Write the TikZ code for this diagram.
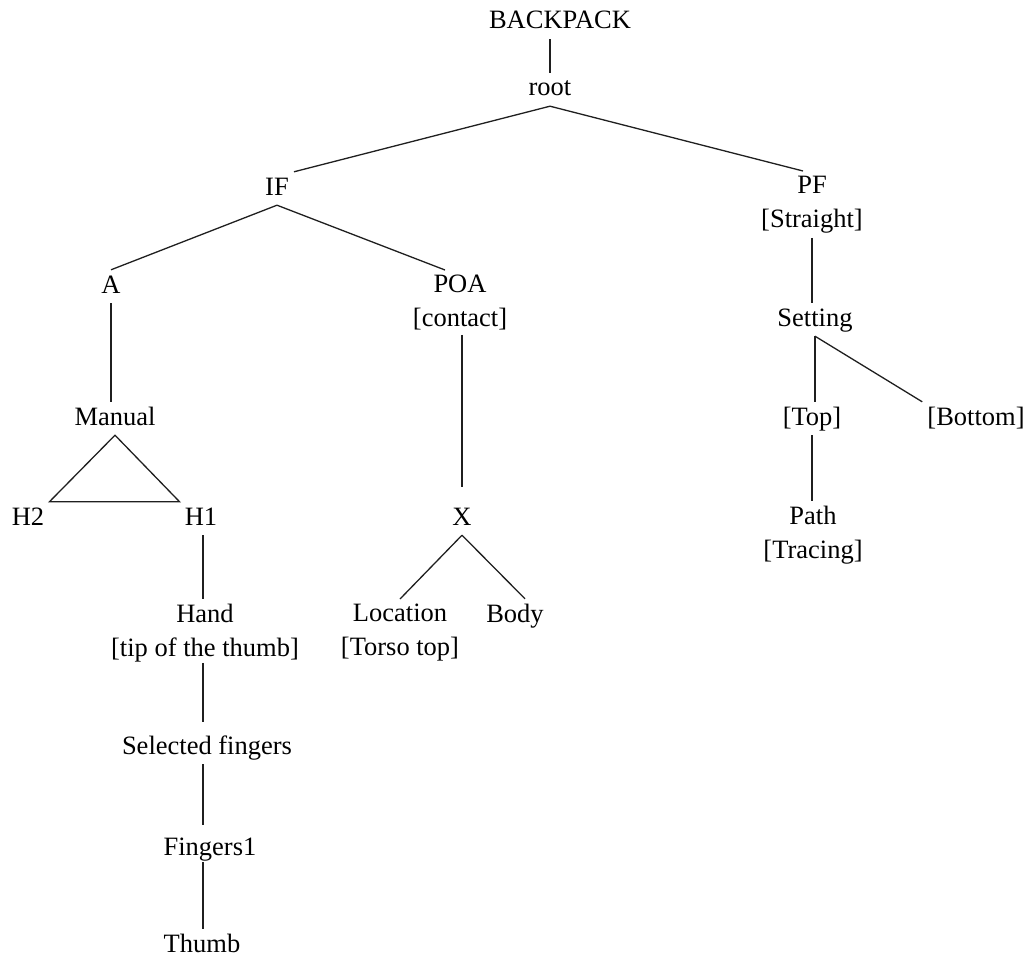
\documentclass[tikz,border=0pt]{standalone}
\usepackage{fontspec}
\setmainfont{Liberation Serif}
\begin{document}
\begin{tikzpicture}[x=1pt, y=-1pt,
  every node/.style={font=\fontsize{26.5pt}{33.5pt}\selectfont, text=black},
  lbl/.style={inner sep=5pt, text height=18pt, text depth=5pt, anchor=base},
  lbltwo/.style={inner sep=5pt, align=center, anchor=north},
  branch/.style={draw=black!88, line width=1.3pt}]
\useasboundingbox (0,0) rectangle (1032,960);

% labels
\node[lbl] (bp) at (560,29) {BACKPACK};
\node[lbl] (root) at (550,96) {root};
\node[lbl] (if) at (277,195) {IF};
\node[lbltwo] (pf) at (812,171) {PF\\{}[Straight]};
\node[lbl] (a) at (111,293) {A};
\node[lbltwo] (poa) at (460,270) {POA\\{}[contact]};
\node[lbl] (manual) at (115,425) {Manual};
\node[lbl] (h2) at (28,525) {H2};
\node[lbl] (h1) at (201,525) {H1};
\node[lbltwo] (hand) at (205,599) {Hand\\{}[tip of the thumb]};
\node[lbl] (sel) at (207,754) {Selected fingers};
\node[lbl] (fing) at (210,855) {Fingers1};
\node[lbl] (thumb) at (202,952) {Thumb};
\node[lbl] (x) at (462,525) {X};
\node[lbltwo] (loc) at (400,599) {Location\\{}[Torso top]};
\node[lbl] (body) at (515,622) {Body};
\node[lbl] (setting) at (815,326) {Setting};
\node[lbl] (top) at (812,425) {[Top]};
\node[lbl] (bottom) at (976,425) {[Bottom]};
\node[lbltwo] (path) at (813,501) {Path\\{}[Tracing]};

% branches
\draw[branch] (root.north |- bp.south) -- (root.north);
\draw[branch] (root.south) -- (if.north east);
\draw[branch] (root.south) -- ([xshift=-9pt]pf.north);
\draw[branch] (if.south) -- (a.north);
\draw[branch] (if.south) -- ([xshift=-15pt]poa.north);
\draw[branch] (a.south) -- (a.south |- manual.north);
\draw[branch, shorten >=15pt] (x.north |- poa.south) -- (x.north);
\draw[branch] (manual.south) -- (h2.north east) -- (h1.north west) -- cycle;
% vertical spine below H1
\draw[branch] ([xshift=2pt]h1.south) -- ([xshift=2pt]h1.south |- hand.north);
\draw[branch, shorten <=-4pt, shorten >=9pt] ([xshift=2pt]h1.south |- hand.south) -- ([xshift=2pt]h1.south |- sel.north);
\draw[branch, shorten >=7pt] ([xshift=2pt]h1.south |- sel.south) -- ([xshift=2pt]h1.south |- fing.north);
\draw[branch, shorten <=-3pt] ([xshift=2pt]h1.south |- fing.south) -- ([xshift=2pt]h1.south |- thumb.north);
\draw[branch] (x.south) -- (loc.north);
\draw[branch] (x.south) -- ([xshift=10pt]body.north);
\draw[branch] (pf.south) -- (pf.south |- setting.north);
\draw[branch] (setting.south) -- (setting.south |- top.north);
\draw[branch] (setting.south) -- (bottom.north west);
\draw[branch] (top.south) -- (top.south |- path.north);
\end{tikzpicture}
\end{document}
